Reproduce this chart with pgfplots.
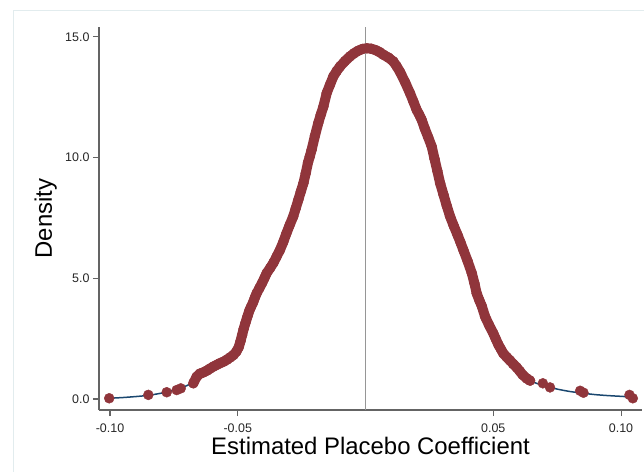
\documentclass[border=0pt]{standalone}
\usepackage{pgfplots}
\pgfplotsset{compat=1.18}
\usepackage{pgfplotstable}
\usepackage{fontspec}
\setmainfont{Liberation Sans}
\definecolor{stmaroon}{RGB}{144,53,59}
\definecolor{stnavy}{RGB}{26,71,111}
\definecolor{axgray}{RGB}{100,100,100}
\definecolor{zerogray}{RGB}{150,150,150}
\definecolor{framecol}{RGB}{226,236,238}

% kernel density curve (thin line)
\pgfplotstableread{
x y
-0.1003 0.03
-0.0950 0.06
-0.0900 0.10
-0.0850 0.15
-0.0800 0.24
-0.0750 0.36
-0.0700 0.55
-0.0674 0.70
-0.0661 0.90
-0.0648 1.04
-0.0635 1.10
-0.0610 1.25
-0.0583 1.41
-0.0555 1.55
-0.0530 1.72
-0.0505 1.95
-0.0491 2.25
-0.0480 2.70
-0.0468 3.20
-0.0455 3.65
-0.0440 4.00
-0.0426 4.38
-0.0405 4.80
-0.0387 5.21
-0.0360 5.65
-0.0335 6.17
-0.0310 6.85
-0.0283 7.56
-0.0263 8.25
-0.0243 8.94
-0.0225 9.80
-0.0211 10.32
-0.0185 11.43
-0.0165 12.11
-0.0152 12.67
-0.0126 13.36
-0.0100 13.77
-0.0061 14.19
-0.0030 14.42
0.0005 14.53
0.0040 14.45
0.0070 14.26
0.0109 13.98
0.0135 13.55
0.0174 12.67
0.0200 11.98
0.0220 11.56
0.0245 10.85
0.0259 10.46
0.0292 8.94
0.0331 7.56
0.0360 6.80
0.0383 6.17
0.0416 5.21
0.0435 4.38
0.0455 3.85
0.0468 3.41
0.0500 2.72
0.0520 2.25
0.0539 1.89
0.0565 1.60
0.0592 1.30
0.0615 1.00
0.0631 0.85
0.0644 0.76
0.0690 0.57
0.0750 0.41
0.0800 0.31
0.0850 0.24
0.0900 0.18
0.0950 0.14
0.1000 0.11
0.1046 0.08
}\densitycurve

% dense band of placebo estimates
\pgfplotstableread{
x y
-0.0674 0.65
-0.0661 0.92
-0.0648 1.05
-0.0635 1.10
-0.0620 1.18
-0.0610 1.25
-0.0596 1.34
-0.0583 1.41
-0.0570 1.48
-0.0555 1.55
-0.0542 1.63
-0.0530 1.72
-0.0517 1.82
-0.0505 1.97
-0.0496 2.15
-0.0489 2.40
-0.0483 2.65
-0.0477 2.90
-0.0470 3.15
-0.0462 3.42
-0.0455 3.65
-0.0448 3.82
-0.0440 4.00
-0.0433 4.20
-0.0426 4.38
-0.0415 4.60
-0.0405 4.80
-0.0396 5.00
-0.0387 5.21
-0.0373 5.43
-0.0360 5.65
-0.0348 5.90
-0.0335 6.17
-0.0322 6.50
-0.0310 6.85
-0.0297 7.20
-0.0283 7.56
-0.0273 7.90
-0.0263 8.25
-0.0253 8.60
-0.0243 8.94
-0.0234 9.35
-0.0225 9.80
-0.0218 10.05
-0.0211 10.32
-0.0198 10.90
-0.0185 11.43
-0.0175 11.78
-0.0165 12.11
-0.0152 12.67
-0.0139 13.02
-0.0126 13.36
-0.0113 13.58
-0.0100 13.77
-0.0080 14.00
-0.0061 14.19
-0.0045 14.32
-0.0030 14.42
-0.0012 14.50
0.0005 14.53
0.0022 14.51
0.0040 14.45
0.0055 14.37
0.0070 14.26
0.0090 14.14
0.0109 13.98
0.0122 13.78
0.0135 13.55
0.0155 13.12
0.0174 12.67
0.0187 12.33
0.0200 11.98
0.0210 11.78
0.0220 11.56
0.0232 11.20
0.0245 10.85
0.0259 10.46
0.0270 9.95
0.0281 9.45
0.0292 8.94
0.0305 8.47
0.0318 8.00
0.0331 7.56
0.0345 7.18
0.0360 6.80
0.0372 6.48
0.0383 6.17
0.0400 5.70
0.0416 5.21
0.0426 4.80
0.0435 4.38
0.0445 4.10
0.0455 3.85
0.0468 3.41
0.0484 3.05
0.0500 2.72
0.0510 2.48
0.0520 2.25
0.0530 2.06
0.0539 1.89
0.0552 1.74
0.0565 1.60
0.0578 1.45
0.0592 1.30
0.0604 1.15
0.0615 1.00
0.0631 0.85
0.0644 0.76
}\bandpts

% isolated tail estimates
\pgfplotstableread{
x y
-0.1003 0.03
-0.0850 0.17
-0.0778 0.28
-0.0739 0.37
-0.0723 0.44
0.0694 0.65
0.0722 0.48
0.0840 0.34
0.0853 0.26
0.1033 0.17
0.1046 0.03
}\tailpts

\begin{document}
\begin{tikzpicture}
\useasboundingbox (-99bp,-62bp) rectangle (545bp,410bp);
\draw[framecol, line width=0.8bp] (-86bp,-62bp) -- (-86bp,400bp) -- (545bp,400bp);
\begin{axis}[
  at={(0,0)}, anchor=south west,
  scale only axis, width=543bp, height=383bp,
  xmin=-0.1043, xmax=0.1082, ymin=-0.456, ymax=15.41,
  axis x line=bottom, axis y line=left,
  axis line style={-, axgray, line width=1.1bp},
  every tick/.style={axgray, line width=1.1bp},
  tick align=outside, major tick length=6bp,
  xtick={-0.1,-0.05,0.05,0.1},
  xticklabels={-0.10,-0.05,0.05,0.10},
  ytick={0,5,10,15},
  yticklabels={0.0,5.0,10.0,15.0},
  ticklabel style={font=\fontsize{12.5}{14}\selectfont, text=black!85},
  xticklabel style={yshift=-4bp},
  xlabel={Estimated Placebo Coefficient},
  ylabel={Density},
  label style={font=\fontsize{24}{28}\selectfont},
  xlabel style={at={(axis description cs:0.5,-0.1149)}, anchor=base},
  ylabel style={at={(axis description cs:-0.0866,0.5)}, anchor=base},
  clip=false,
]
\addplot[stnavy, line width=1.5bp, smooth, tension=0.4] table {\densitycurve};
\addplot[stmaroon, line width=10bp, line cap=round, line join=round] table {\bandpts};
\addplot[only marks, mark=*, mark size=5bp, stmaroon, mark options={draw=stmaroon, fill=stmaroon}] table {\bandpts};
\addplot[only marks, mark=*, mark size=5bp, stmaroon, mark options={draw=stmaroon, fill=stmaroon}] table {\tailpts};
\draw[zerogray, line width=1.2bp] (axis cs:0,-0.456) -- (axis cs:0,15.41);
\end{axis}
\end{tikzpicture}
\end{document}
